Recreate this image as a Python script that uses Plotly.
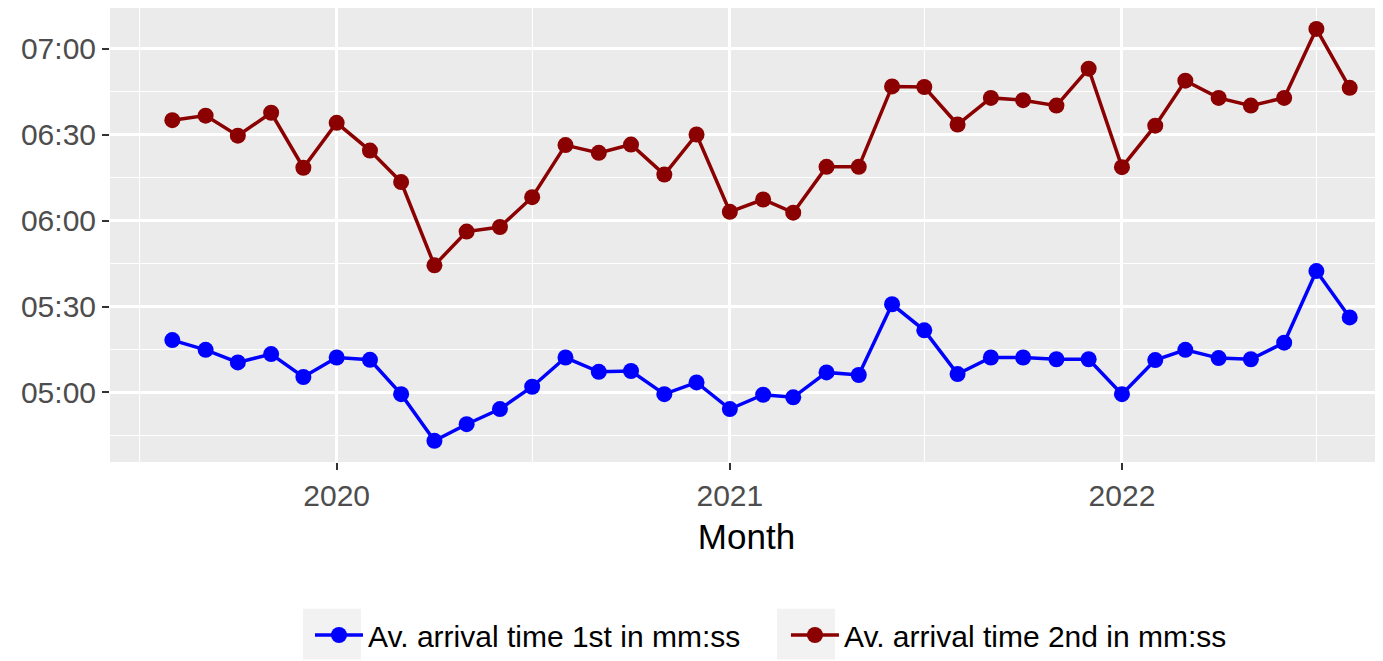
import plotly.graph_objects as go

months = [
    "2019-08-01", "2019-09-01", "2019-10-01", "2019-11-01", "2019-12-01",
    "2020-01-01", "2020-02-01", "2020-03-01", "2020-04-01", "2020-05-01", "2020-06-01",
    "2020-07-01", "2020-08-01", "2020-09-01", "2020-10-01", "2020-11-01", "2020-12-01",
    "2021-01-01", "2021-02-01", "2021-03-01", "2021-04-01", "2021-05-01", "2021-06-01",
    "2021-07-01", "2021-08-01", "2021-09-01", "2021-10-01", "2021-11-01", "2021-12-01",
    "2022-01-01", "2022-02-01", "2022-03-01", "2022-04-01", "2022-05-01", "2022-06-01",
    "2022-07-01", "2022-08-01",
]

# average arrival times in seconds
first_arrival = [
    318.3, 314.9, 310.5, 313.4, 305.4,
    312.2, 311.4, 299.4, 283.1, 288.9, 294.2,
    302.0, 312.2, 307.2, 307.5, 299.4, 303.5,
    294.2, 299.2, 298.3, 307.0, 306.1, 330.8,
    321.7, 306.4, 312.2, 312.2, 311.6, 311.6,
    299.4, 311.3, 314.9, 312.0, 311.6, 317.4,
    342.4, 326.2,
]
second_arrival = [
    395.1, 396.7, 389.7, 397.7, 378.5,
    394.2, 384.5, 373.5, 344.4, 356.2, 357.8,
    368.2, 386.4, 383.7, 386.6, 376.1, 390.1,
    363.1, 367.4, 362.8, 378.8, 378.8, 406.9,
    406.7, 393.6, 402.9, 402.1, 400.2, 413.1,
    378.7, 393.2, 408.9, 402.9, 400.2, 402.9,
    427.0, 406.4,
]

series_names = ["Av. arrival time 1st in mm:ss", "Av. arrival time 2nd in mm:ss"]
series_colors = ["#0000FF", "#8B0000"]

y_tick_vals = [300, 330, 360, 390, 420]
y_tick_text = ["05:00", "05:30", "06:00", "06:30", "07:00"]
y_minor_vals = [285, 315, 345, 375, 405]
x_tick_vals = ["2020-01-01", "2021-01-01", "2022-01-01"]
x_tick_text = ["2020", "2021", "2022"]
x_minor_vals = ["2019-07-01", "2020-07-01", "2021-07-01", "2022-07-01"]

fig = go.Figure()
for i, (name, vals, col) in enumerate(zip(series_names, [first_arrival, second_arrival], series_colors)):
    fig.add_trace(go.Scatter(
        x=months, y=vals, name=name, mode="lines+markers",
        line=dict(color=col, width=3.5),
        marker=dict(color=col, size=16),
        legend="legend" if i == 0 else "legend2",
    ))

font_family = "Liberation Sans, Arial, sans-serif"
legend_common = dict(
    orientation="h", yanchor="middle", y=-0.3818, xanchor="left",
    font=dict(family=font_family, size=30, color="black"),
    bgcolor="rgba(0,0,0,0)", itemwidth=48,
)

# grey legend key backgrounds (ggplot style)
key_boxes = [(0.15161, 0.19717), (0.52396, 0.56952)]
shapes = [
    dict(type="rect", xref="paper", yref="paper", x0=a, x1=b, y0=-0.4352, y1=-0.3231,
         fillcolor="#F2F2F2", line=dict(width=0), layer="below")
    for a, b in key_boxes
]

fig.update_layout(
    width=1375, height=653,
    paper_bgcolor="white", plot_bgcolor="#EBEBEB",
    margin=dict(l=102, r=0, t=0, b=198),
    font=dict(family=font_family, size=30, color="#4D4D4D"),
    showlegend=True,
    legend=dict(x=0.1571, **legend_common),
    legend2=dict(x=0.5310, **legend_common),
    shapes=shapes,
)
fig.update_xaxes(
    type="date", range=["2019-06-04", "2022-09-01"],
    tickmode="array", tickvals=x_tick_vals, ticktext=x_tick_text,
    showgrid=True, gridcolor="white", gridwidth=2.5,
    minor=dict(tickmode="array", tickvals=x_minor_vals, showgrid=True,
               gridcolor="white", gridwidth=1.3),
    ticks="outside", ticklen=7, tickwidth=2, tickcolor="#333333",
    tickfont=dict(size=30, color="#4D4D4D"),
    zeroline=False, showline=False,
    title=dict(text="Month", font=dict(size=35, color="black"), standoff=13),
)
fig.update_yaxes(
    range=[275.7, 434.3],
    tickmode="array", tickvals=y_tick_vals, ticktext=y_tick_text,
    showgrid=True, gridcolor="white", gridwidth=2.5,
    minor=dict(tickmode="array", tickvals=y_minor_vals, showgrid=True,
               gridcolor="white", gridwidth=1.3),
    ticks="outside", ticklen=7, tickwidth=2, tickcolor="#333333",
    tickfont=dict(size=30, color="#4D4D4D"),
    ticklabelstandoff=0,
    zeroline=False, showline=False,
)

fig.write_html("out.html")
